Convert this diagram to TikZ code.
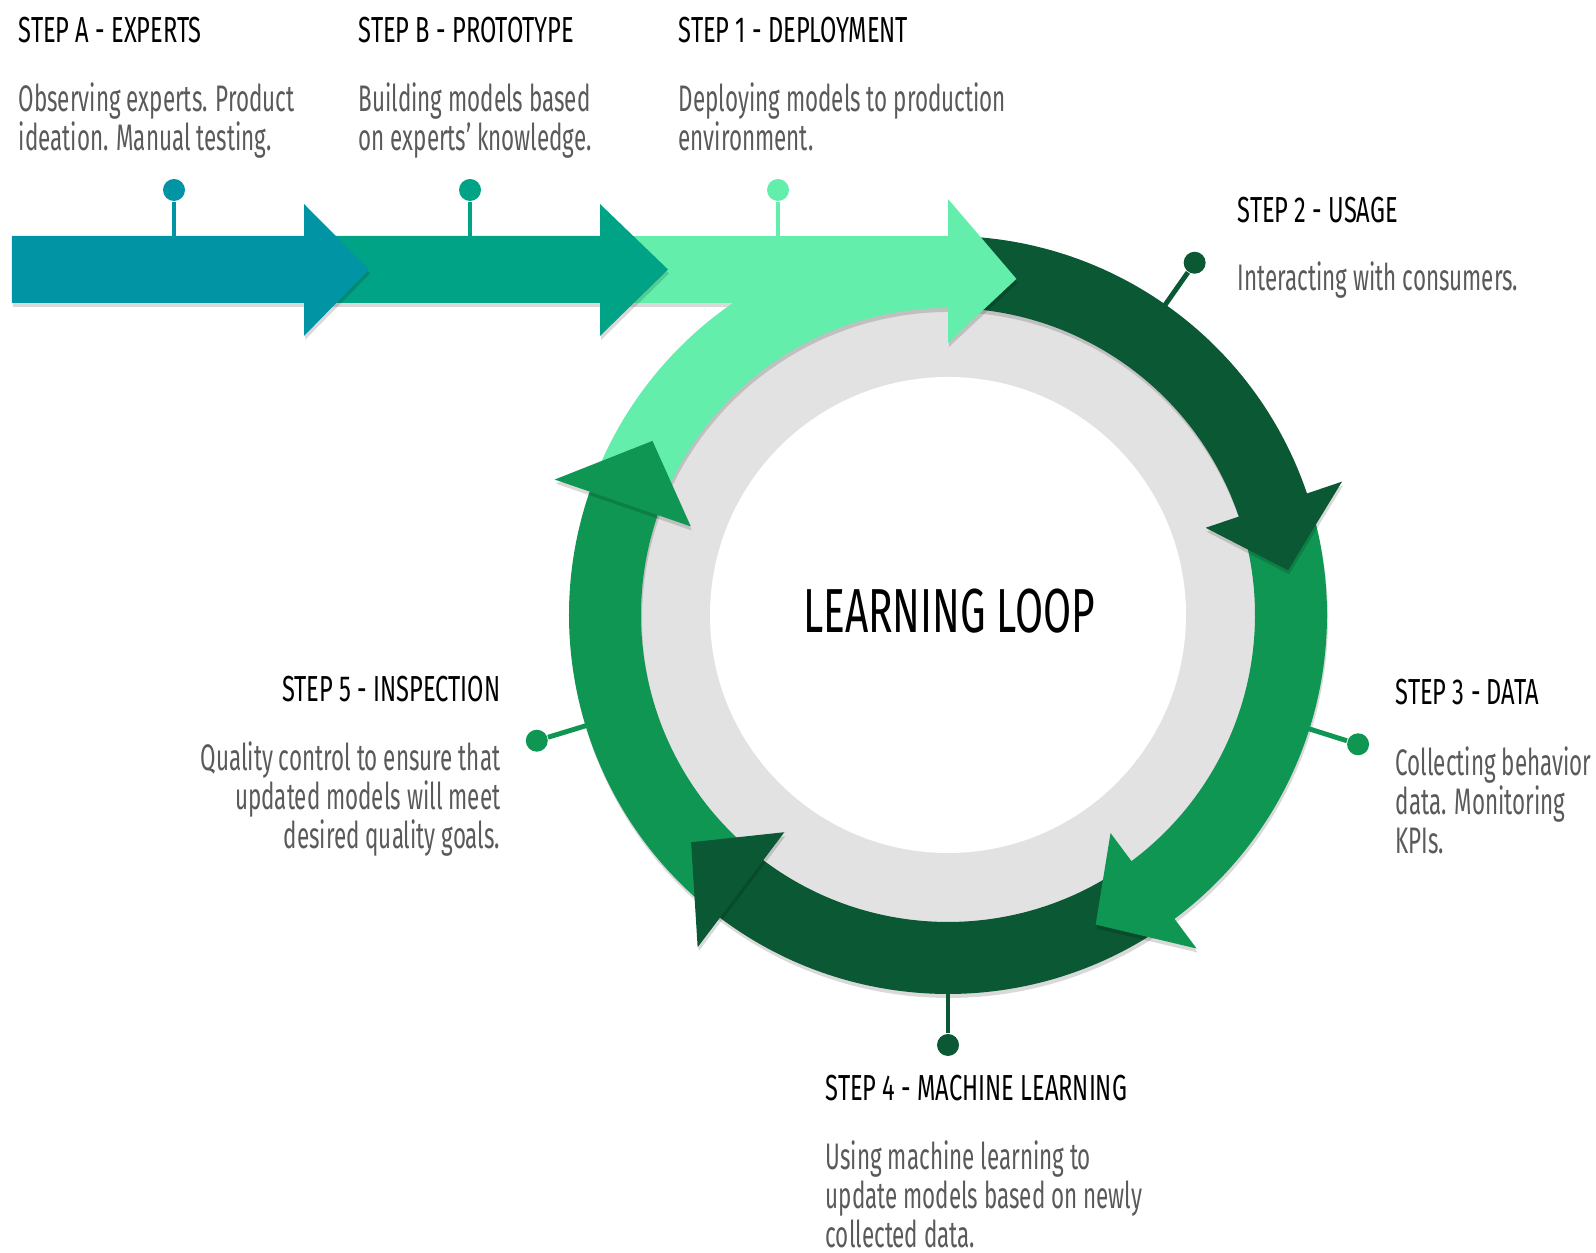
\documentclass[tikz,border=0pt]{standalone}
\usepackage{fontspec}
\setmainfont{Fira Sans}
\newfontfamily\titlefont{Fira Sans}[FakeStretch=0.653]
\newfontfamily\descfont{Fira Sans}[FakeStretch=0.607, Ligatures=TeX]
\usetikzlibrary{calc,positioning,shadows}

\definecolor{tealA}{HTML}{0094A4}
\definecolor{tealB}{HTML}{00A386}
\definecolor{mint}{HTML}{64EEAC}
\definecolor{pine}{HTML}{0A5834}
\definecolor{leaf}{HTML}{0F9653}
\definecolor{disc}{HTML}{E2E2E2}
\definecolor{desctext}{HTML}{5A5A5A}

\tikzset{
  title/.style={font=\titlefont\fontsize{10.3}{11.1}\selectfont, text=black, inner sep=0pt},
  desc/.style={font=\descfont\fontsize{10.5}{11.1}\selectfont, text=desctext, inner sep=0pt},
  raised/.style={drop shadow={shadow xshift=0.01cm, shadow yshift=-0.04cm, opacity=0.15, fill=black}},
  stem/.style={line width=1.4pt},
  dot/.style={circle, inner sep=0pt, minimum size=2.2mm},
}

\begin{document}
\begin{tikzpicture}
\useasboundingbox (0,0) rectangle (15.96,12.53);

% timeline arrows, back to front
\fill[mint, raised] (6.15,10.17) rectangle (9.55,9.50);
\fill[tealB, raised] (3.20,10.17) -- (6.00,10.17) -- (6.00,10.49) -- (6.68,9.835)
  -- (6.00,9.17) -- (6.00,9.50) -- (3.20,9.50) -- cycle;
\fill[tealA, raised] (0.12,10.17) -- (3.04,10.17) -- (3.04,10.49) -- (3.69,9.835)
  -- (3.04,9.17) -- (3.04,9.50) -- (0.12,9.50) -- cycle;

% pins on the timeline
\foreach \name/\x/\col in {a/1.74/tealA, b/4.70/tealB, c/7.78/mint} {
  \coordinate (t\name) at (\x,10.15);
  \node[dot, fill=\col] (q\name) at (\x,10.63) {};
  \draw[stem, \col] (t\name) -- (q\name);
}

% the loop
\begin{scope}[shift={(9.48,6.38)}]
  \fill[disc] (0,0) circle (3.1);
  \fill[white] (0,0) circle (2.38);
  % bands first, heads on top
  \foreach \col/\tail/\back in {mint/158.5/90, pine/87.5/18.7, leaf/16.2/-53.3,
                                pine/-55.8/-127, leaf/-129.5/-199}
    \fill[\col, raised] (\tail:3.79) arc[start angle=\tail, end angle=\back-1, radius=3.79]
      -- ({\back-1}:3.07) arc[start angle=\back-1, end angle=\tail, radius=3.07] -- cycle;
  \foreach \col/\back/\tip in {mint/90/78.5, pine/18.7/7.5, leaf/-53.3/-64.5,
                               pine/-127/-138.5, leaf/-199/-210.5}
    \fill[\col, raised] (\back:4.16) -- (\tip:3.43) -- (\back:2.72) -- cycle;

  \node[font=\titlefont\fontsize{17.7}{20}\selectfont, inner sep=0pt] (loop) at (0.01,0.035) {LEARNING LOOP};

  % pins round the ring
  \foreach \name/\ang/\col in {2/55/pine, 3/-17.5/leaf, 4/-90/pine, 5/197/leaf} {
    \coordinate (r\name) at (\ang:3.75);
    \node[dot, fill=\col] (p\name) at (\ang:4.30) {};
    \draw[stem, \col] (r\name) -- (p\name);
  }
\end{scope}

% step texts (a multi-line node sits on its last baseline)
\node[title, anchor=base west] (hA) at (0.18,12.10) {STEP A - EXPERTS};
\node[desc, below=10.8mm of hA.base west, anchor=base west, align=left] (dA)
  {Observing experts. Product\\ideation. Manual testing.};
\node[title, anchor=base west] (hB) at (3.58,12.10) {STEP B - PROTOTYPE};
\node[desc, below=10.8mm of hB.base west, anchor=base west, align=left] (dB)
  {Building models based\\on experts’ knowledge.};
\node[title, anchor=base west] (h1) at (6.78,12.10) {STEP 1 - DEPLOYMENT};
\node[desc, below=10.8mm of h1.base west, anchor=base west, align=left] (d1)
  {Deploying models to production\\environment.};
\node[title, anchor=base west] (h2) at (12.37,10.30) {STEP 2 - USAGE};
\node[desc, below=6.8mm of h2.base west, anchor=base west, align=left] (d2)
  {Interacting with consumers.};
\node[title, anchor=base west] (h3) at (13.95,5.48) {STEP 3 - DATA};
\node[desc, below=14.9mm of h3.base west, anchor=base west, align=left] (d3)
  {Collecting behavior\\data. Monitoring\\KPIs.};
\node[title, anchor=base west] (h4) at (8.25,1.52) {STEP 4 - MACHINE LEARNING};
\node[desc, below=14.7mm of h4.base west, anchor=base west, align=left] (d4)
  {Using machine learning to\\update models based on newly\\collected data.};
\node[title, anchor=base east] (h5) at (5.01,5.51) {STEP 5 - INSPECTION};
\node[desc, below=14.7mm of h5.base east, anchor=base east, align=right] (d5)
  {Quality control to ensure that\\updated models will meet\\desired quality goals.};
\end{tikzpicture}
\end{document}
